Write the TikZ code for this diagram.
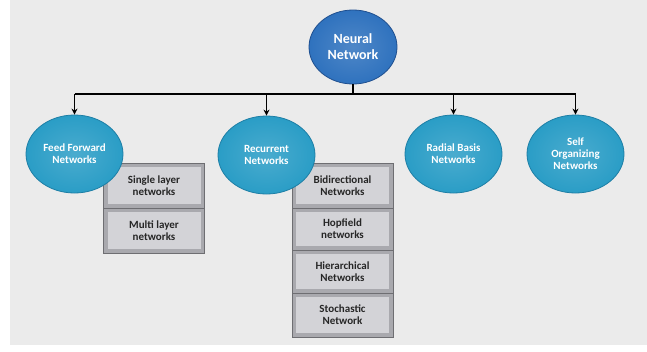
\documentclass[tikz,border=0pt]{standalone}
\usepackage{fontspec}
\setmainfont{Carlito}
\usetikzlibrary{shapes.geometric,arrows.meta}
\definecolor{bggray}{HTML}{EBEBEB}
\definecolor{teal1}{HTML}{2A9DC6}
\definecolor{teal2}{HTML}{1E7FA6}
\definecolor{blue1}{HTML}{2F72BE}
\definecolor{blue2}{HTML}{1F4F8F}
\definecolor{boxout}{HTML}{A9A9AE}
\definecolor{boxin}{HTML}{D3D3D7}
\definecolor{boxline}{HTML}{6E6E72}
\begin{document}
\begin{tikzpicture}[x=1pt,y=-1pt,
  ell/.style={ellipse,draw=teal2,line width=0.8pt,inner color=teal1!85!white,outer color=teal1,
    text=white,font=\bfseries\fontsize{11}{12}\selectfont,align=center,
    minimum width=97pt,minimum height=78pt,inner sep=0pt},
  rootell/.style={ellipse,draw=blue2,line width=0.8pt,inner color=blue1!85!white,outer color=blue1,
    text=white,font=\bfseries\fontsize{14}{16}\selectfont,align=center,
    minimum width=88pt,minimum height=74pt,inner sep=0pt},
  gbox/.style={rectangle,draw=boxline,line width=0.8pt,fill=boxout,
    font=\bfseries\fontsize{11}{12}\selectfont,text=black!85,align=center,
    minimum width=101pt,inner sep=0pt,
    path picture={\fill[boxin] ([shift={(4pt,-4pt)}]path picture bounding box.north west)
      rectangle ([shift={(-4pt,4pt)}]path picture bounding box.south east);}},
  conn/.style={line width=1.3pt,black},
  arr/.style={conn,-{Stealth[length=6pt,width=6pt]}}]
\fill[white] (0,0) rectangle (647,351);
\fill[bggray] (10,0) rectangle (647,345);
% boxes
\node[gbox,minimum height=45pt] (s1) at (154,185.5) {Single layer\\networks};
\node[gbox,minimum height=45pt] (s2) at (154,230.5) {Multi layer\\networks};
\node[gbox,minimum height=45pt] (r1) at (342.5,185.5) {Bidirectional\\Networks};
\node[gbox,minimum height=42pt] (r2) at (342.5,229) {Hopfield\\networks};
\node[gbox,minimum height=43pt] (r3) at (342.5,271.5) {Hierarchical\\Networks};
\node[gbox,minimum height=44pt] (r4) at (342.5,315) {Stochastic\\Network};
% ellipses
\node[rootell] (nn) at (353,47) {Neural\\Network};
\node[ell] (ff) at (74.5,154) {Feed Forward\\Networks};
\node[ell] (rc) at (266.5,155) {Recurrent\\Networks};
\node[ell] (rb) at (453.5,154) {Radial Basis\\Networks};
\node[ell] (so) at (575.5,154) {Self\\Organizing\\Networks};
% connectors
\coordinate (j) at (353,94);
\draw[conn] (nn.south) -- (j);
\draw[conn] (ff.north |- j) -- (so.north |- j);
\draw[arr] (ff.north |- j) -- (ff.north);
\draw[arr] (rc.north |- j) -- (rc.north);
\draw[arr] (rb.north |- j) -- (rb.north);
\draw[arr] (so.north |- j) -- (so.north);
\end{tikzpicture}
\end{document}
